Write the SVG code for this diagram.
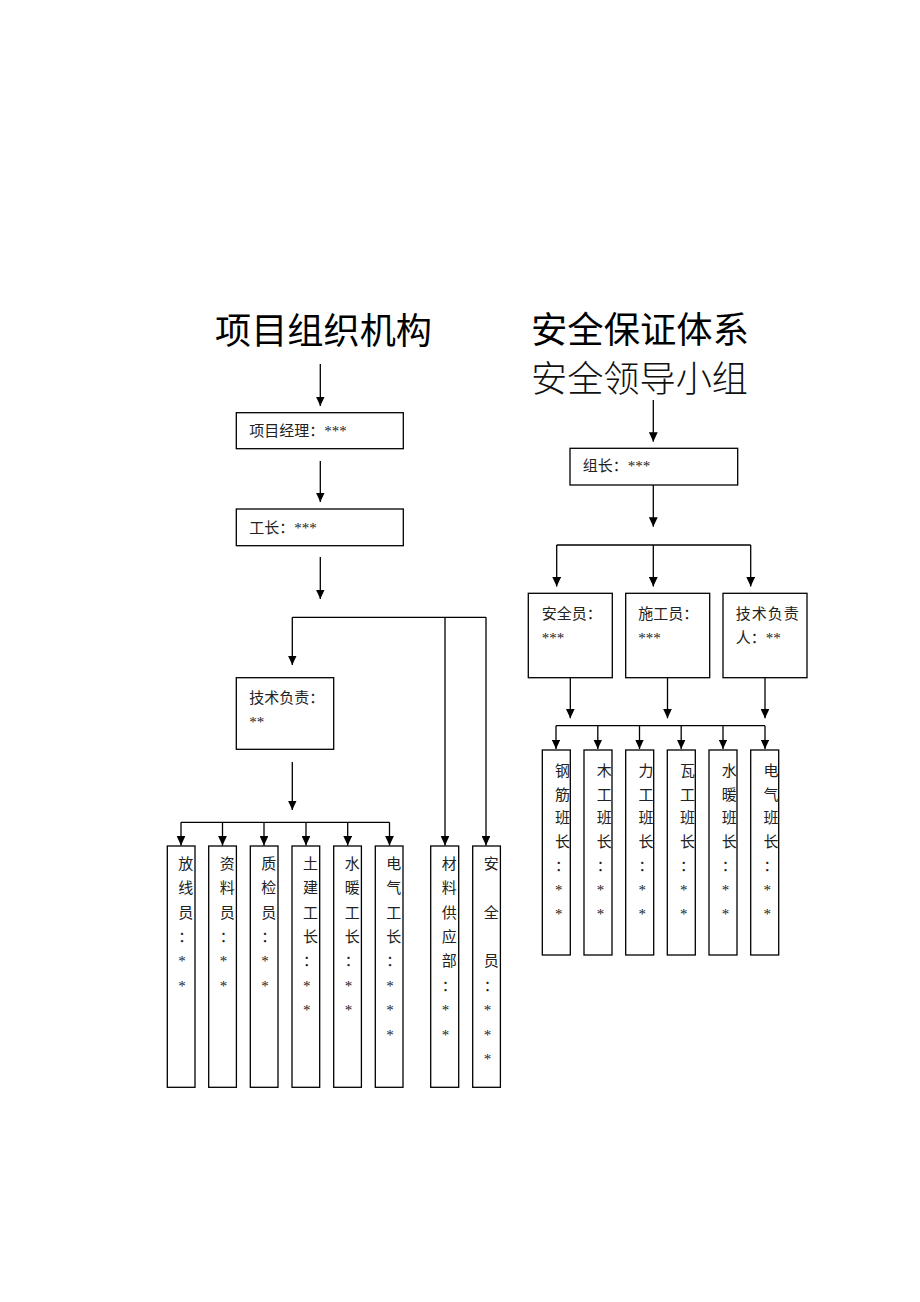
<svg xmlns="http://www.w3.org/2000/svg" width="920" height="1302" viewBox="0 0 920 1302">
<style>
.bx{fill:#fff;stroke:#000;stroke-width:1.3}
.ln{fill:none;stroke:#000;stroke-width:1.3}
.ar{fill:none;stroke:#000;stroke-width:1.3;marker-end:url(#ah)}
.t{font-family:"Liberation Serif","Noto Sans CJK SC",serif;font-size:15px;fill:#222}
.title{font-family:"Noto Sans CJK SC",sans-serif;font-size:36px;fill:#000}
.title2{font-family:"Noto Sans CJK SC",sans-serif;font-size:36px;font-weight:300;fill:#111}
</style>
<defs>
<marker id="ah" markerUnits="userSpaceOnUse" viewBox="0 0 9.5 8.8" markerWidth="9.5" markerHeight="8.8" refX="9.5" refY="4.4" orient="auto">
<path d="M0,0 L9.5,4.4 L0,8.8 z" fill="#000"/>
</marker>
</defs>
<rect width="920" height="1302" fill="#fff"/>

<g id="titles">
<text class="title" x="215" y="344" textLength="217" lengthAdjust="spacingAndGlyphs">项目组织机构</text>
<text class="title" x="531" y="343" textLength="218" lengthAdjust="spacingAndGlyphs">安全保证体系</text>
<text class="title2" x="531" y="392" textLength="217" lengthAdjust="spacingAndGlyphs">安全领导小组</text>
</g>

<g id="connectors">
<line class="ar" x1="320.3" y1="364" x2="320.3" y2="406"/>
<line class="ar" x1="320.3" y1="461" x2="320.3" y2="502"/>
<line class="ar" x1="320.3" y1="557" x2="320.3" y2="599"/>
<line class="ln" x1="292.3" y1="617.3" x2="486" y2="617.3"/>
<line class="ar" x1="292.3" y1="617.3" x2="292.3" y2="665"/>
<line class="ar" x1="445" y1="617.3" x2="445" y2="845.5"/>
<line class="ar" x1="486" y1="617.3" x2="486" y2="845.5"/>
<line class="ar" x1="292.3" y1="762" x2="292.3" y2="810"/>
<line class="ln" x1="181" y1="822.3" x2="389.5" y2="822.3"/>
<line class="ar" x1="181" y1="822.3" x2="181" y2="845.5"/>
<line class="ar" x1="222.5" y1="822.3" x2="222.5" y2="845.5"/>
<line class="ar" x1="264" y1="822.3" x2="264" y2="845.5"/>
<line class="ar" x1="306" y1="822.3" x2="306" y2="845.5"/>
<line class="ar" x1="347.7" y1="822.3" x2="347.7" y2="845.5"/>
<line class="ar" x1="389.5" y1="822.3" x2="389.5" y2="845.5"/>

<line class="ar" x1="653.3" y1="400" x2="653.3" y2="441.7"/>
<line class="ar" x1="653.3" y1="485" x2="653.3" y2="526.7"/>
<line class="ln" x1="556.7" y1="545" x2="750.7" y2="545"/>
<line class="ar" x1="556.7" y1="545" x2="556.7" y2="586.5"/>
<line class="ar" x1="653.3" y1="545" x2="653.3" y2="586.5"/>
<line class="ar" x1="750.7" y1="545" x2="750.7" y2="586.5"/>
<line class="ar" x1="570.3" y1="677.7" x2="570.3" y2="718.3"/>
<line class="ar" x1="667.5" y1="677.7" x2="667.5" y2="718.3"/>
<line class="ar" x1="765" y1="677.7" x2="765" y2="718.3"/>
<line class="ln" x1="556" y1="725.7" x2="765" y2="725.7"/>
<line class="ar" x1="556" y1="725.7" x2="556" y2="749"/>
<line class="ar" x1="597.8" y1="725.7" x2="597.8" y2="749"/>
<line class="ar" x1="639.5" y1="725.7" x2="639.5" y2="749"/>
<line class="ar" x1="681.2" y1="725.7" x2="681.2" y2="749"/>
<line class="ar" x1="723" y1="725.7" x2="723" y2="749"/>
<line class="ar" x1="765" y1="725.7" x2="765" y2="749"/>
</g>

<g id="n-pm">
<rect class="bx" x="236.3" y="412.7" width="167" height="36"/>
<text class="t" x="249.3" y="436.4">项目经理：***</text>
</g>
<g id="n-foreman">
<rect class="bx" x="236.3" y="509" width="167" height="36.7"/>
<text class="t" x="249.3" y="533.4">工长：***</text>
</g>
<g id="n-tech">
<rect class="bx" x="236.3" y="677.7" width="97.4" height="71.6"/>
<text class="t" x="249.3" y="702.7">技术负责：</text>
<text class="t" x="249.3" y="727">**</text>
</g>

<g id="n-l1">
<rect class="bx" x="167.3" y="846" width="27.7" height="241.3"/>
<text class="t"><tspan x="178.3" y="868.7">放</tspan><tspan x="178.3" y="893.1">线</tspan><tspan x="178.3" y="917.5">员</tspan><tspan x="178.3" y="941.9">：</tspan><tspan x="178.3" y="966.3">*</tspan><tspan x="178.3" y="990.7">*</tspan></text>
</g>
<g id="n-l2">
<rect class="bx" x="208.7" y="846" width="27.7" height="241.3"/>
<text class="t"><tspan x="219.7" y="868.7">资</tspan><tspan x="219.7" y="893.1">料</tspan><tspan x="219.7" y="917.5">员</tspan><tspan x="219.7" y="941.9">：</tspan><tspan x="219.7" y="966.3">*</tspan><tspan x="219.7" y="990.7">*</tspan></text>
</g>
<g id="n-l3">
<rect class="bx" x="250.3" y="846" width="27.7" height="241.3"/>
<text class="t"><tspan x="261.3" y="868.7">质</tspan><tspan x="261.3" y="893.1">检</tspan><tspan x="261.3" y="917.5">员</tspan><tspan x="261.3" y="941.9">：</tspan><tspan x="261.3" y="966.3">*</tspan><tspan x="261.3" y="990.7">*</tspan></text>
</g>
<g id="n-l4">
<rect class="bx" x="292" y="846" width="27.7" height="241.3"/>
<text class="t"><tspan x="303" y="868.7">土</tspan><tspan x="303" y="893.1">建</tspan><tspan x="303" y="917.5">工</tspan><tspan x="303" y="941.9">长</tspan><tspan x="303" y="966.3">：</tspan><tspan x="303" y="990.7">*</tspan><tspan x="303" y="1015.1">*</tspan></text>
</g>
<g id="n-l5">
<rect class="bx" x="333.7" y="846" width="27.7" height="241.3"/>
<text class="t"><tspan x="344.7" y="868.7">水</tspan><tspan x="344.7" y="893.1">暖</tspan><tspan x="344.7" y="917.5">工</tspan><tspan x="344.7" y="941.9">长</tspan><tspan x="344.7" y="966.3">：</tspan><tspan x="344.7" y="990.7">*</tspan><tspan x="344.7" y="1015.1">*</tspan></text>
</g>
<g id="n-l6">
<rect class="bx" x="375.3" y="846" width="27.7" height="241.3"/>
<text class="t"><tspan x="386.3" y="868.7">电</tspan><tspan x="386.3" y="893.1">气</tspan><tspan x="386.3" y="917.5">工</tspan><tspan x="386.3" y="941.9">长</tspan><tspan x="386.3" y="966.3">：</tspan><tspan x="386.3" y="990.7">*</tspan><tspan x="386.3" y="1015.1">*</tspan><tspan x="386.3" y="1039.5">*</tspan></text>
</g>
<g id="n-l7">
<rect class="bx" x="430.7" y="846" width="28" height="241.3"/>
<text class="t"><tspan x="441.7" y="868.7">材</tspan><tspan x="441.7" y="893.1">料</tspan><tspan x="441.7" y="917.5">供</tspan><tspan x="441.7" y="941.9">应</tspan><tspan x="441.7" y="966.3">部</tspan><tspan x="441.7" y="990.7">：</tspan><tspan x="441.7" y="1015.1">*</tspan><tspan x="441.7" y="1039.5">*</tspan></text>
</g>
<g id="n-l8">
<rect class="bx" x="472.7" y="846" width="27.7" height="241.3"/>
<text class="t"><tspan x="483.7" y="868.7">安</tspan><tspan x="483.7" y="917.5">全</tspan><tspan x="483.7" y="966.3">员</tspan><tspan x="483.7" y="990.7">：</tspan><tspan x="483.7" y="1015.1">*</tspan><tspan x="483.7" y="1039.5">*</tspan><tspan x="483.7" y="1063.9">*</tspan></text>
</g>

<g id="n-leader">
<rect class="bx" x="570" y="448.3" width="167.7" height="36.7"/>
<text class="t" x="582.7" y="471.4">组长：***</text>
</g>
<g id="n-safety">
<rect class="bx" x="528.3" y="593.3" width="84" height="84.4"/>
<text class="t" x="541.7" y="619">安全员：</text>
<text class="t" x="541.7" y="642.5">***</text>
</g>
<g id="n-builder">
<rect class="bx" x="625.7" y="593.3" width="84" height="84.4"/>
<text class="t" x="638.3" y="619">施工员：</text>
<text class="t" x="638.3" y="642.5">***</text>
</g>
<g id="n-techlead">
<rect class="bx" x="723" y="593.3" width="84" height="84.4"/>
<text class="t" x="735.7" y="619" letter-spacing="1">技术负责</text>
<text class="t" x="735.7" y="642.5">人：**</text>
</g>

<g id="n-r1">
<rect class="bx" x="542.3" y="750" width="28" height="205"/>
<text class="t"><tspan x="555" y="775.7">钢</tspan><tspan x="555" y="799.5">筋</tspan><tspan x="555" y="823.3">班</tspan><tspan x="555" y="847.1">长</tspan><tspan x="555" y="870.9">：</tspan><tspan x="555" y="894.7">*</tspan><tspan x="555" y="918.5">*</tspan></text>
</g>
<g id="n-r2">
<rect class="bx" x="584" y="750" width="28" height="205"/>
<text class="t"><tspan x="596.7" y="775.7">木</tspan><tspan x="596.7" y="799.5">工</tspan><tspan x="596.7" y="823.3">班</tspan><tspan x="596.7" y="847.1">长</tspan><tspan x="596.7" y="870.9">：</tspan><tspan x="596.7" y="894.7">*</tspan><tspan x="596.7" y="918.5">*</tspan></text>
</g>
<g id="n-r3">
<rect class="bx" x="625.7" y="750" width="28" height="205"/>
<text class="t"><tspan x="638.4" y="775.7">力</tspan><tspan x="638.4" y="799.5">工</tspan><tspan x="638.4" y="823.3">班</tspan><tspan x="638.4" y="847.1">长</tspan><tspan x="638.4" y="870.9">：</tspan><tspan x="638.4" y="894.7">*</tspan><tspan x="638.4" y="918.5">*</tspan></text>
</g>
<g id="n-r4">
<rect class="bx" x="667.3" y="750" width="28" height="205"/>
<text class="t"><tspan x="680" y="775.7">瓦</tspan><tspan x="680" y="799.5">工</tspan><tspan x="680" y="823.3">班</tspan><tspan x="680" y="847.1">长</tspan><tspan x="680" y="870.9">：</tspan><tspan x="680" y="894.7">*</tspan><tspan x="680" y="918.5">*</tspan></text>
</g>
<g id="n-r5">
<rect class="bx" x="709" y="750" width="28" height="205"/>
<text class="t"><tspan x="721.7" y="775.7">水</tspan><tspan x="721.7" y="799.5">暖</tspan><tspan x="721.7" y="823.3">班</tspan><tspan x="721.7" y="847.1">长</tspan><tspan x="721.7" y="870.9">：</tspan><tspan x="721.7" y="894.7">*</tspan><tspan x="721.7" y="918.5">*</tspan></text>
</g>
<g id="n-r6">
<rect class="bx" x="750.7" y="750" width="28" height="205"/>
<text class="t"><tspan x="763.4" y="775.7">电</tspan><tspan x="763.4" y="799.5">气</tspan><tspan x="763.4" y="823.3">班</tspan><tspan x="763.4" y="847.1">长</tspan><tspan x="763.4" y="870.9">：</tspan><tspan x="763.4" y="894.7">*</tspan><tspan x="763.4" y="918.5">*</tspan></text>
</g>
</svg>
